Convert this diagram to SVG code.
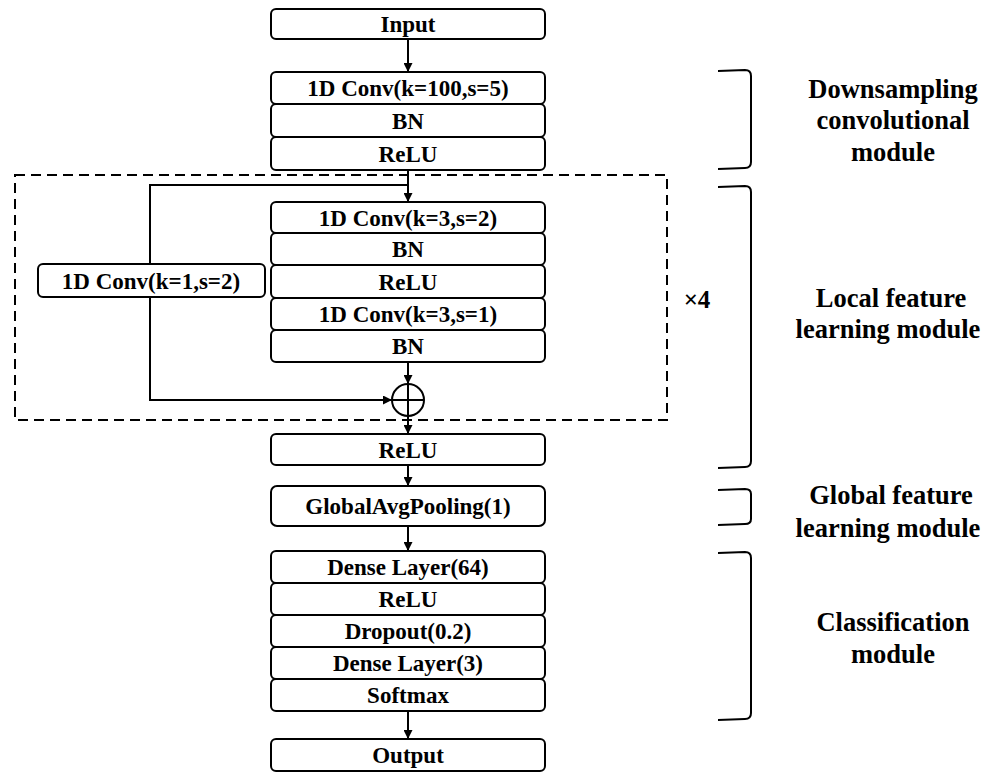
<svg xmlns="http://www.w3.org/2000/svg" width="983" height="773" viewBox="0 0 983 773">
<defs>
<style>
.box{fill:#fff;stroke:#000;stroke-width:2}
.t{font-family:"Liberation Serif","Times New Roman",serif;font-weight:bold;font-size:23px;text-anchor:middle;fill:#000}
.lab{font-family:"Liberation Serif","Times New Roman",serif;font-weight:bold;font-size:26.5px;text-anchor:middle;fill:#000}
.ln{fill:none;stroke:#000;stroke-width:2}
.br{fill:none;stroke:#000;stroke-width:2}
</style>
<marker id="ah" viewBox="0 0 10 10" refX="10" refY="5" markerWidth="10" markerHeight="9" orient="auto" markerUnits="userSpaceOnUse">
<path d="M0,0 L10,5 L0,10 z" fill="#000"/>
</marker>
</defs>
<rect width="983" height="773" fill="#fff"/>

<g id="repeat-box">
<rect x="15" y="175" width="652" height="245" fill="none" stroke="#000" stroke-width="2" stroke-dasharray="10,6"/>
</g>

<g id="connectors">
<line class="ln" x1="408" y1="39" x2="408" y2="72" marker-end="url(#ah)"/>
<line class="ln" x1="408" y1="170" x2="408" y2="202" marker-end="url(#ah)"/>
<polyline class="ln" points="408,185 150,185 150,400 392,400" marker-end="url(#ah)"/>
<line class="ln" x1="408" y1="362" x2="408" y2="384" marker-end="url(#ah)"/>
<line class="ln" x1="408" y1="416" x2="408" y2="434" marker-end="url(#ah)"/>
<line class="ln" x1="408" y1="465" x2="408" y2="486" marker-end="url(#ah)"/>
<line class="ln" x1="408" y1="526" x2="408" y2="551" marker-end="url(#ah)"/>
<line class="ln" x1="408" y1="711" x2="408" y2="739" marker-end="url(#ah)"/>
</g>

<g id="input"><rect class="box" x="271" y="9" width="274" height="30" rx="5"/><text class="t" x="408" y="32">Input</text></g>

<g id="conv100"><rect class="box" x="271" y="72" width="274" height="32" rx="5"/><text class="t" x="408" y="96">1D Conv(k=100,s=5)</text></g>
<g id="bn1"><rect class="box" x="271" y="104" width="274" height="33" rx="5"/><text class="t" x="408" y="129">BN</text></g>
<g id="relu1"><rect class="box" x="271" y="137" width="274" height="33" rx="5"/><text class="t" x="408" y="162">ReLU</text></g>

<g id="conv3s2"><rect class="box" x="271" y="202" width="274" height="31" rx="5"/><text class="t" x="408" y="226">1D Conv(k=3,s=2)</text></g>
<g id="bn2"><rect class="box" x="271" y="233" width="274" height="32" rx="5"/><text class="t" x="408" y="257">BN</text></g>
<g id="relu2"><rect class="box" x="271" y="265" width="274" height="33" rx="5"/><text class="t" x="408" y="290">ReLU</text></g>
<g id="conv3s1"><rect class="box" x="271" y="298" width="274" height="32" rx="5"/><text class="t" x="408" y="322">1D Conv(k=3,s=1)</text></g>
<g id="bn3"><rect class="box" x="271" y="330" width="274" height="32" rx="5"/><text class="t" x="408" y="354">BN</text></g>

<g id="conv1s2"><rect class="box" x="38" y="264" width="227" height="33" rx="5"/><text class="t" x="151" y="289">1D Conv(k=1,s=2)</text></g>

<g id="add">
<circle cx="408" cy="400" r="16" fill="#fff" stroke="#000" stroke-width="2"/>
<line class="ln" x1="392" y1="400" x2="424" y2="400"/>
<line class="ln" x1="408" y1="384" x2="408" y2="416"/>
</g>

<g id="relu3"><rect class="box" x="271" y="434" width="274" height="31" rx="5"/><text class="t" x="408" y="458">ReLU</text></g>

<g id="gap"><rect class="box" x="271" y="486" width="274" height="40" rx="6"/><text class="t" x="408" y="514">GlobalAvgPooling(1)</text></g>

<g id="dense64"><rect class="box" x="271" y="551" width="274" height="32" rx="5"/><text class="t" x="408" y="575">Dense Layer(64)</text></g>
<g id="relu4"><rect class="box" x="271" y="583" width="274" height="32" rx="5"/><text class="t" x="408" y="607">ReLU</text></g>
<g id="dropout"><rect class="box" x="271" y="615" width="274" height="32" rx="5"/><text class="t" x="408" y="639">Dropout(0.2)</text></g>
<g id="dense3"><rect class="box" x="271" y="647" width="274" height="32" rx="5"/><text class="t" x="408" y="671">Dense Layer(3)</text></g>
<g id="softmax"><rect class="box" x="271" y="679" width="274" height="32" rx="5"/><text class="t" x="408" y="703">Softmax</text></g>

<g id="output"><rect class="box" x="271" y="739" width="274" height="32" rx="5"/><text class="t" x="408" y="763">Output</text></g>

<g id="x4"><text class="t" x="697" y="308" style="font-size:25px">×4</text></g>

<g id="brackets">
<path class="br" d="M718,71 L745,70 Q751,70 751,76 L751,162 Q751,168 745,168 L718,169"/>
<path class="br" d="M718,187 L745,186 Q751,186 751,192 L751,461 Q751,467 745,467 L718,468"/>
<path class="br" d="M718,490 L745,489 Q751,489 751,494 L751,519 Q751,524 745,524 L718,525"/>
<path class="br" d="M718,553 L745,552 Q751,552 751,558 L751,713 Q751,719 745,719 L718,720"/>
</g>

<g id="labels">
<text class="lab" x="893" y="98">Downsampling</text>
<text class="lab" x="893" y="129">convolutional</text>
<text class="lab" x="893" y="161">module</text>
<text class="lab" x="891" y="307">Local feature</text>
<text class="lab" x="888" y="338">learning module</text>
<text class="lab" x="891" y="504">Global feature</text>
<text class="lab" x="888" y="537">learning module</text>
<text class="lab" x="893" y="631">Classification</text>
<text class="lab" x="893" y="663">module</text>
</g>
</svg>
